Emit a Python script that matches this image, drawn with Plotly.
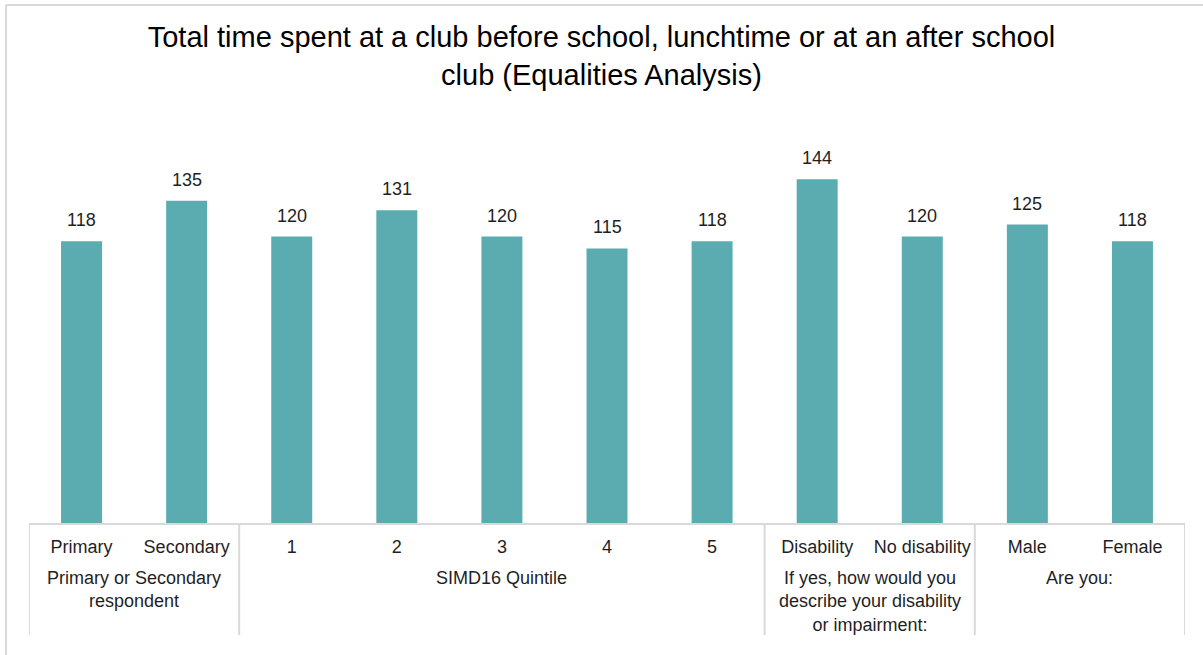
import plotly.graph_objects as go

# Categories, their groups and the values shown on the bars
categories = ["Primary", "Secondary", "1", "2", "3", "4", "5",
              "Disability", "No disability", "Male", "Female"]
values = [118, 135, 120, 131, 120, 115, 118, 144, 120, 125, 118]
groups = [
    ("Primary or Secondary<br>respondent", 0, 1),
    ("SIMD16 Quintile", 2, 6),
    ("If yes, how would you<br>describe your disability<br>or impairment:", 7, 8),
    ("Are you:", 9, 10),
]

BAR = "#5BACB1"
GRID = "#D9D9D9"
TXT = "#1F1F1F"
FONT = "Liberation Sans, Arial, sans-serif"

W, H = 1203, 655
L, R, T, B = 29, 18, 141, 132
pw, ph = W - L - R, H - T - B

fig = go.Figure(go.Bar(
    x=categories, y=values,
    marker=dict(color=BAR, line=dict(width=0)),
    width=0.39,
    hovertemplate="%{x}: %{y}<extra></extra>",
))

shapes = []
# group separators running below the axis
bounds = [groups[0][1] - 0.5] + [g[2] + 0.5 for g in groups]
for b in bounds:
    shapes.append(dict(type="line", xref="x", yref="paper",
                       x0=b, x1=b, y0=0, y1=-(635 - 523) / ph,
                       line=dict(color=GRID, width=2)))
# outer frame (top and left edges)
fx = (6 - L) / pw
fy = 1 + (T - 5) / ph
shapes.append(dict(type="line", xref="paper", yref="paper",
                   x0=fx, x1=1 + (R + 5) / pw, y0=fy, y1=fy,
                   line=dict(color=GRID, width=2)))
shapes.append(dict(type="line", xref="paper", yref="paper",
                   x0=fx, x1=fx, y0=fy, y1=-(B + 5) / ph,
                   line=dict(color=GRID, width=2)))

annotations = []
# value labels above each bar (positioned by category index)
for i, v in enumerate(values):
    annotations.append(dict(
        text=str(v), x=i, y=v, xref="x", yref="y",
        yanchor="bottom", xanchor="center", yshift=9,
        showarrow=False, font=dict(size=18, color=TXT, family=FONT),
    ))
# group labels under the category labels
for label, a, b in groups:
    annotations.append(dict(
        text=label, xref="x", yref="paper", x=(a + b) / 2,
        y=-(566 - 523) / ph, yanchor="top", xanchor="center",
        showarrow=False, align="center",
        font=dict(size=18, color=TXT, family=FONT),
    ))

fig.update_layout(
    width=W, height=H,
    margin=dict(l=L, r=R, t=T, b=B),
    paper_bgcolor="white", plot_bgcolor="white",
    title=dict(
        text="Total time spent at a club before school, lunchtime or at an after school<br>club (Equalities Analysis)",
        x=0.5, xanchor="center", y=1 - 47 / H, yanchor="top",
        font=dict(size=29, color="#000000", family=FONT),
    ),
    xaxis=dict(
        type="category", showline=True, linecolor=GRID, linewidth=2,
        ticks="", showgrid=False, ticklabelstandoff=6,
        tickfont=dict(size=18, color=TXT, family=FONT),
        range=[-0.5, len(categories) - 0.5],
    ),
    yaxis=dict(visible=False, range=[0, 160], showgrid=False, zeroline=False),
    shapes=shapes,
    annotations=annotations,
    showlegend=False,
    bargap=0.61,
)

fig.write_html("out.html")
